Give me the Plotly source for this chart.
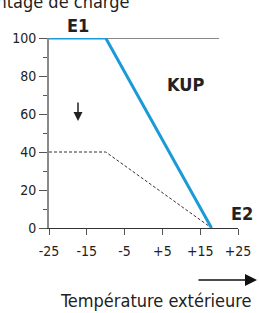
import plotly.graph_objects as go

# ---- data ----
kup_temp = [-25, -10, 18]
kup_load = [100, 100, 0]
partial_temp = [-25, -10, 18]
partial_load = [40, 40, 0]
ref_temp = [-25, 20]
ref_load = [100, 100]
x_tick_vals = [-25, -15, -5, 5, 15, 25]
x_tick_text = ["-25", "-15", "-5", "+5", "+15", "+25"]
y_tick_vals = [0, 20, 40, 60, 80, 100]
y_minor_vals = [10, 30, 50, 70, 90]

FONT = "Liberation Sans Narrow, DejaVu Sans Condensed, Open Sans, sans-serif"
TXT = "#222222"

fig = go.Figure()
fig.add_trace(go.Scatter(x=ref_temp, y=ref_load, mode="lines",
                         line=dict(color="#111111", width=1), cliponaxis=False,
                         hoverinfo="skip"))
fig.add_trace(go.Scatter(x=partial_temp, y=partial_load, mode="lines",
                         line=dict(color="#333333", width=1, dash="3px,2px"),
                         cliponaxis=False, hoverinfo="skip"))
fig.add_trace(go.Scatter(x=kup_temp, y=kup_load, mode="lines",
                         line=dict(color="#1a9ad6", width=3), cliponaxis=False,
                         hoverinfo="skip"))

W, H = 259, 313
L, R, T, B = 49, 21, 38, 85

fig.update_layout(
    width=W, height=H, margin=dict(l=L, r=R, t=T, b=B, autoexpand=False),
    plot_bgcolor="white", paper_bgcolor="white", showlegend=False,
    font=dict(family=FONT, size=14, color=TXT),
    xaxis=dict(range=[-25, 25], tickmode="array", tickvals=x_tick_vals,
               ticktext=x_tick_text, ticks="outside", ticklen=6,
               tickcolor="#555555", showline=True, linecolor="#333333",
               linewidth=1, showgrid=False, zeroline=False, automargin=False,
               tickfont=dict(family=FONT, size=14, color=TXT),
               ticklabelstandoff=4),
    yaxis=dict(range=[0, 100], tickmode="array", tickvals=y_tick_vals,
               ticks="outside", ticklen=8, tickcolor="#555555",
               showline=True, linecolor="#8a8a8a", linewidth=2,
               showgrid=False, zeroline=False, automargin=False,
               tickfont=dict(family=FONT, size=14, color=TXT),
               minor=dict(tickmode="array", tickvals=y_minor_vals,
                          ticks="outside", ticklen=4, tickcolor="#555555")),
)

def px(x):
    return (x - L) / (W - L - R)

def py(y):
    return (H - B - y) / (H - T - B)

def label(x, y, text, size, **kw):
    d = dict(x=px(x), y=py(y), xref="paper", yref="paper", text=text,
             showarrow=False, xanchor="center", yanchor="middle",
             font=dict(size=size, family=FONT, color=TXT))
    d.update(kw)
    return d

ann = [
    label(78, 25, "<b>E1</b>", 18),
    label(185, 84, "<b>KUP</b>", 18),
    label(242, 213, "<b>E2</b>", 18),
    label(156, 300, "Température extérieure", 18),
    label(131, 14, "Pourcentage de charge", 18, xanchor="right", yanchor="bottom"),
]
# down arrow
ann.append(dict(x=px(78), y=py(121), xref="paper", yref="paper",
                ax=0, ay=-20, text="", showarrow=True, arrowhead=2,
                arrowsize=1.2, arrowwidth=1.5, arrowcolor="#222222"))
# right arrow
ann.append(dict(x=px(257), y=py(280), xref="paper", yref="paper",
                ax=-60, ay=0, text="", showarrow=True, arrowhead=2,
                arrowsize=1.6, arrowwidth=1.5, arrowcolor="#111111"))
fig.update_layout(annotations=ann)

fig.write_html("out.html", config={"displayModeBar": False, "staticPlot": True},
               post_script="document.body.style.margin='0';document.body.style.padding='0';")
